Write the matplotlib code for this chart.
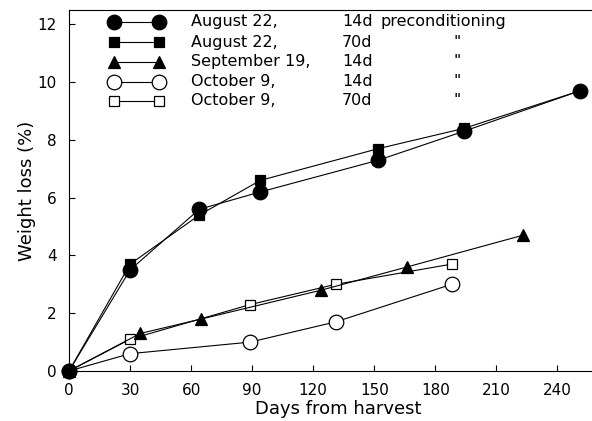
import matplotlib
matplotlib.use("Agg")
import matplotlib.pyplot as plt

# weight loss (%) vs days from harvest
aug14_days = [0, 30, 64, 94, 152, 194, 251]
aug14_loss = [0.0, 3.5, 5.6, 6.2, 7.3, 8.3, 9.7]
aug70_days = [0, 30, 64, 94, 152, 194, 251]
aug70_loss = [0.0, 3.7, 5.4, 6.6, 7.7, 8.4, 9.7]
sep14_days = [0, 35, 65, 124, 166, 223]
sep14_loss = [0.0, 1.3, 1.8, 2.8, 3.6, 4.7]
oct14_days = [0, 30, 89, 131, 188]
oct14_loss = [0.0, 0.6, 1.0, 1.7, 3.0]
oct70_days = [0, 30, 89, 131, 188]
oct70_loss = [0.0, 1.1, 2.3, 3.0, 3.7]

dates = ["August 22,", "August 22,", "September 19,", "October 9,", "October 9,"]
periods = ["14d", "70d", "14d", "14d", "70d"]
notes = ["preconditioning", '"', '"', '"', '"']

plt.rcParams["font.family"] = "DejaVu Sans"

series = [
    (aug14_days, aug14_loss, dict(marker="o", ms=10.5, mfc="black")),
    (aug70_days, aug70_loss, dict(marker="s", ms=7.5, mfc="black")),
    (sep14_days, sep14_loss, dict(marker="^", ms=8.5, mfc="black")),
    (oct14_days, oct14_loss, dict(marker="o", ms=10.5, mfc="white")),
    (oct70_days, oct70_loss, dict(marker="s", ms=7.0, mfc="white")),
]
zorders = [7, 6, 5, 4, 3]  # filled circles end up on top at the origin

fig = plt.figure(figsize=(5.92, 4.21), dpi=100)
ax = fig.add_axes([0.1166, 0.1188, 0.8834, 0.8574])

for (x, y, st), z in zip(series, zorders):
    ax.plot(x, y, color="black", lw=0.8, mec="black", mew=0.9, clip_on=False, zorder=z, **st)

# hand-built legend (marker—marker plus three text columns)
rows_y = [0.967, 0.911, 0.856, 0.801, 0.748]
for (x, y, st), ry, d, p, n in zip(series, rows_y, dates, periods, notes):
    ax.plot([0.086, 0.172], [ry, ry], transform=ax.transAxes, color="black", lw=0.8,
            mec="black", mew=0.9, clip_on=False, **st)
    ax.text(0.233, ry, d, transform=ax.transAxes, va="center", ha="left", fontsize=11.5)
    ax.text(0.522, ry, p, transform=ax.transAxes, va="center", ha="left", fontsize=11.5)
    if n == '"':
        ax.text(0.742, ry, n, transform=ax.transAxes, va="center", ha="center", fontsize=11.5)
    else:
        ax.text(0.595, ry, n, transform=ax.transAxes, va="center", ha="left", fontsize=11.5)

ax.set_xlim(0, 257)
ax.set_ylim(0, 12.5)
ax.set_xticks(range(0, 241, 30))
ax.set_yticks(range(0, 13, 2))
ax.tick_params(direction="in", length=4, width=0.8, labelsize=11, pad=9)
ax.spines["right"].set_visible(False)
for s in ["left", "bottom", "top"]:
    ax.spines[s].set_linewidth(0.8)
ax.set_xlabel("Days from harvest", fontsize=13)
ax.xaxis.set_label_coords(0.514, -0.08)
ax.set_ylabel("Weight loss (%)", fontsize=13, labelpad=1)

fig.savefig("out.png", dpi=100)
